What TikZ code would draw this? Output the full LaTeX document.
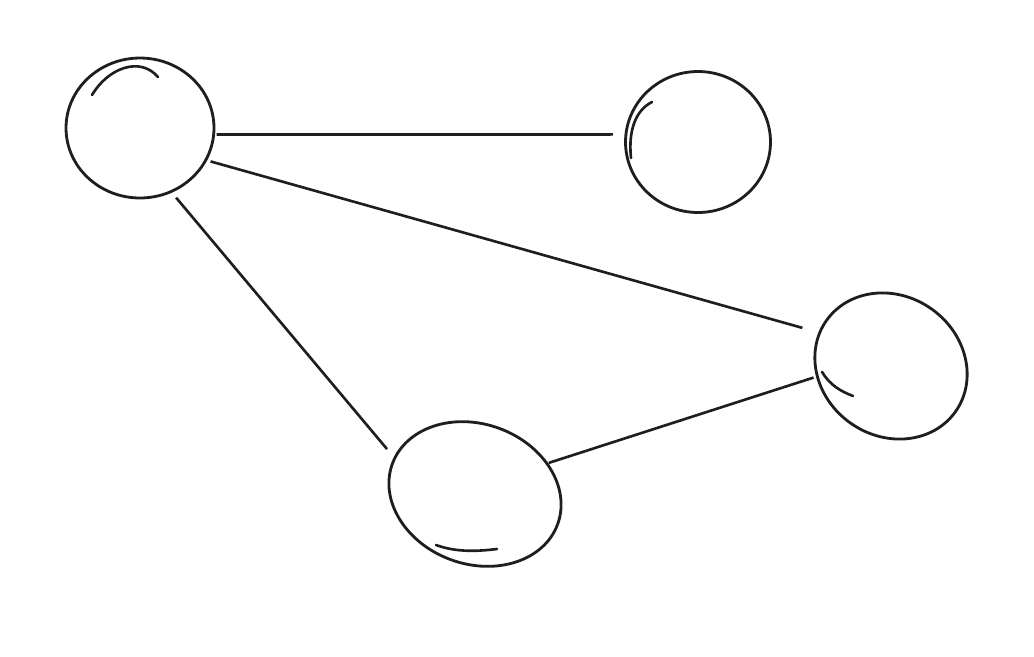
\documentclass[tikz,border=0pt]{standalone}
\usepackage{tikz}
\usepackage{xcolor}
\usetikzlibrary{shapes,positioning,calc}
\definecolor{inkgray}{RGB}{30,30,30}

\begin{document}
\begin{tikzpicture}[x=0.02cm,y=-0.02cm,
  blob/.style={ellipse,draw=inkgray,line width=1.6pt,inner sep=0pt,outer sep=0pt},
  link/.style={draw=inkgray,line width=1.5pt},
  stroke/.style={draw=inkgray,line width=1.5pt,line cap=round}]

  \useasboundingbox (0,0) rectangle (1034,656);

  % Nodes
  \node[blob,minimum width=2.96cm,minimum height=2.8cm] (A) at (140,128) {};
  \node[blob,minimum width=2.9cm,minimum height=2.82cm] (B) at (698,142) {};
  \node[blob,minimum width=3.16cm,minimum height=2.8cm,rotate=-35] (C) at (891,366) {};
  \node[blob,minimum width=3.52cm,minimum height=2.8cm,rotate=-20] (D) at (475,494) {};

  % Loose pen strokes
  \draw[stroke] (92,95) .. controls (108,68) and (140,56) .. (158,77);
  \draw[stroke] (652,102) .. controls (636,110) and (628,130) .. (631,158);
  \draw[stroke] (822,372) .. controls (830,385) and (840,391) .. (853,396);
  \draw[stroke] (436,545) .. controls (458,553) and (480,551) .. (497,549);

  % Edges
  \draw[link,shorten <=0.06cm,shorten >=0.26cm] (A.-5) -- (B.174);
  \draw[link,shorten <=0.1cm,shorten >=0.36cm] (A.-26) -- (C.190);
  \draw[link,shorten <=0.16cm,shorten >=0.24cm] (A.-64) -- (D.176);
  \draw[link,shorten <=0.04cm,shorten >=0.08cm] (D.43) -- (C.223);
\end{tikzpicture}
\end{document}
